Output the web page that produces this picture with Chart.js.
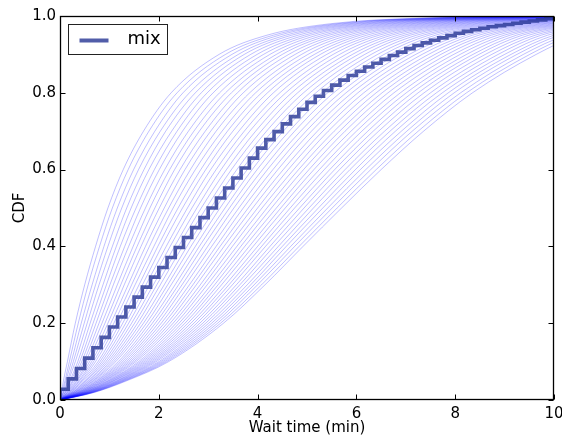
<!DOCTYPE html>
<html>
<head>
<meta charset="utf-8">
<script src="https://cdn.jsdelivr.net/npm/chart.js@4.4.1/dist/chart.umd.min.js"></script>
<style>
  html, body { margin: 0; padding: 0; background: #fff; }
  #c { display: block; }
</style>
</head>
<body>
<canvas id="c" width="562" height="437" style="width:562px;height:437px"></canvas>
<script>
// ---------- DATA ----------
// Mixture CDF: one value per 10-second step (1/6 min), from 0 to 10 min.
const mixStepMinutes = 1 / 6;
const mixCdf = [0.028,0.055,0.082,0.109,0.136,0.163,0.190,
  0.216,0.242,0.268,0.294,0.320,0.345,
  0.371,0.397,0.423,0.449,0.475,0.500,
  0.526,0.552,0.578,0.604,0.630,0.656,
  0.678,0.699,0.719,0.738,0.757,0.775,
  0.791,0.806,0.820,0.833,0.845,0.856,
  0.867,0.877,0.887,0.897,0.906,0.915,
  0.923,0.930,0.937,0.943,0.949,0.955,
  0.960,0.964,0.968,0.972,0.975,0.978,
  0.981,0.984,0.987,0.990,0.993,0.996];

// Light curves: wait time (min) at which each of the 51 curves reaches a CDF level.
const cdfLevels = [0.02, 0.05, 0.1, 0.2, 0.3, 0.4, 0.5, 0.6, 0.7, 0.8, 0.9, 0.95, 0.98, 0.995, 0.999];
const wait02 = [0.03,0.04,0.06,0.07,0.08,0.10,0.11,0.12,0.14,0.15,0.16,0.18,0.19,0.20,0.22,0.23,0.24,0.26,0.27,0.28,0.30,0.31,0.32,0.34,0.35,0.37,0.38,0.39,0.41,0.42,0.43,0.45,0.46,0.47,0.49,0.50,0.51,0.53,0.54,0.55,0.57,0.58,0.59,0.61,0.62,0.63,0.65,0.66,0.67,0.69,0.70];
const wait05 = [0.07,0.10,0.12,0.15,0.17,0.20,0.22,0.25,0.27,0.30,0.33,0.35,0.38,0.40,0.43,0.45,0.48,0.51,0.53,0.56,0.58,0.61,0.63,0.66,0.68,0.71,0.74,0.76,0.79,0.81,0.84,0.86,0.89,0.91,0.94,0.97,0.99,1.02,1.04,1.07,1.09,1.12,1.15,1.17,1.20,1.22,1.25,1.27,1.30,1.32,1.35];
const wait10 = [0.15,0.19,0.23,0.27,0.31,0.36,0.40,0.44,0.48,0.52,0.56,0.60,0.64,0.68,0.72,0.77,0.81,0.85,0.89,0.93,0.97,1.01,1.05,1.09,1.13,1.18,1.22,1.26,1.30,1.34,1.38,1.42,1.46,1.50,1.54,1.59,1.63,1.67,1.71,1.75,1.79,1.83,1.87,1.91,1.95,2.00,2.04,2.08,2.12,2.16,2.20];
const wait20 = [0.31,0.37,0.43,0.49,0.55,0.61,0.67,0.73,0.79,0.85,0.91,0.97,1.03,1.09,1.15,1.21,1.27,1.33,1.39,1.45,1.51,1.57,1.63,1.69,1.75,1.81,1.87,1.93,1.99,2.05,2.11,2.17,2.23,2.29,2.35,2.41,2.47,2.53,2.59,2.65,2.71,2.77,2.83,2.89,2.95,3.01,3.07,3.13,3.19,3.25,3.31];
const wait30 = [0.50,0.57,0.65,0.72,0.79,0.87,0.94,1.01,1.08,1.16,1.23,1.30,1.38,1.45,1.52,1.60,1.67,1.74,1.81,1.89,1.96,2.03,2.11,2.18,2.25,2.33,2.40,2.47,2.54,2.62,2.69,2.76,2.84,2.91,2.98,3.06,3.13,3.20,3.27,3.35,3.42,3.49,3.57,3.64,3.71,3.79,3.86,3.93,4.00,4.08,4.15];
const wait40 = [0.72,0.80,0.89,0.97,1.06,1.14,1.22,1.31,1.39,1.48,1.56,1.64,1.73,1.81,1.90,1.98,2.06,2.15,2.23,2.32,2.40,2.48,2.57,2.65,2.74,2.82,2.90,2.99,3.07,3.16,3.24,3.32,3.41,3.49,3.58,3.66,3.74,3.83,3.91,4.00,4.08,4.16,4.25,4.33,4.42,4.50,4.58,4.67,4.75,4.84,4.92];
const wait50 = [0.97,1.06,1.16,1.25,1.35,1.44,1.54,1.63,1.73,1.82,1.92,2.01,2.11,2.20,2.29,2.39,2.48,2.58,2.67,2.77,2.86,2.96,3.05,3.15,3.24,3.34,3.43,3.52,3.62,3.71,3.81,3.90,4.00,4.09,4.19,4.28,4.38,4.47,4.56,4.66,4.75,4.85,4.94,5.04,5.13,5.23,5.32,5.42,5.51,5.61,5.70];
const wait60 = [1.28,1.38,1.49,1.59,1.70,1.80,1.91,2.01,2.12,2.22,2.32,2.43,2.53,2.64,2.74,2.85,2.95,3.05,3.16,3.26,3.37,3.47,3.58,3.68,3.79,3.89,3.99,4.10,4.20,4.31,4.41,4.52,4.62,4.73,4.83,4.93,5.04,5.14,5.25,5.35,5.46,5.56,5.66,5.77,5.87,5.98,6.08,6.19,6.29,6.40,6.50];
const wait70 = [1.69,1.80,1.92,2.03,2.14,2.26,2.37,2.48,2.60,2.71,2.82,2.94,3.05,3.16,3.28,3.39,3.50,3.62,3.73,3.84,3.96,4.07,4.18,4.30,4.41,4.52,4.64,4.75,4.87,4.98,5.09,5.21,5.32,5.43,5.55,5.66,5.77,5.89,6.00,6.11,6.23,6.34,6.45,6.57,6.68,6.79,6.91,7.02,7.13,7.25,7.36];
const wait80 = [2.25,2.37,2.49,2.62,2.74,2.86,2.98,3.10,3.23,3.35,3.47,3.59,3.71,3.84,3.96,4.08,4.20,4.32,4.45,4.57,4.69,4.81,4.93,5.06,5.18,5.30,5.42,5.54,5.67,5.79,5.91,6.03,6.15,6.28,6.40,6.52,6.64,6.76,6.89,7.01,7.13,7.25,7.37,7.50,7.62,7.74,7.86,7.98,8.11,8.23,8.35];
const wait90 = [3.22,3.35,3.48,3.61,3.73,3.86,3.99,4.12,4.25,4.38,4.50,4.63,4.76,4.89,5.02,5.15,5.27,5.40,5.53,5.66,5.79,5.92,6.04,6.17,6.30,6.43,6.56,6.69,6.82,6.94,7.07,7.20,7.33,7.46,7.59,7.71,7.84,7.97,8.10,8.23,8.36,8.48,8.61,8.74,8.87,9.00,9.13,9.25,9.38,9.51,9.64];
const wait95 = [4.19,4.32,4.44,4.57,4.69,4.82,4.95,5.07,5.20,5.33,5.45,5.58,5.70,5.83,5.96,6.08,6.21,6.34,6.46,6.59,6.71,6.84,6.97,7.09,7.22,7.35,7.47,7.60,7.72,7.85,7.98,8.10,8.23,8.35,8.48,8.61,8.73,8.86,8.99,9.11,9.24,9.36,9.49,9.62,9.74,9.87,10.00,10.12,10.25,10.37,10.50];
const wait98 = [5.48,5.61,5.73,5.86,5.99,6.11,6.24,6.36,6.49,6.62,6.74,6.87,7.00,7.12,7.25,7.38,7.50,7.63,7.76,7.88,8.01,8.13,8.26,8.39,8.51,8.64,8.77,8.89,9.02,9.15,9.27,9.40,9.52,9.65,9.78,9.90,10.03,10.16,10.28,10.41,10.54,10.66,10.79,10.92,11.04,11.17,11.29,11.42,11.55,11.67,11.80];
const wait995 = [7.42,7.54,7.66,7.78,7.91,8.03,8.15,8.27,8.39,8.51,8.64,8.76,8.88,9.00,9.12,9.24,9.37,9.49,9.61,9.73,9.85,9.97,10.10,10.22,10.34,10.46,10.58,10.70,10.82,10.95,11.07,11.19,11.31,11.43,11.55,11.68,11.80,11.92,12.04,12.16,12.28,12.41,12.53,12.65,12.77,12.89,13.01,13.14,13.26,13.38,13.50];
const wait999 = [9.67,9.79,9.90,10.02,10.14,10.25,10.37,10.49,10.60,10.72,10.84,10.95,11.07,11.19,11.30,11.42,11.54,11.65,11.77,11.89,12.00,12.12,12.24,12.35,12.47,12.59,12.70,12.82,12.94,13.05,13.17,13.28,13.40,13.52,13.63,13.75,13.87,13.98,14.10,14.22,14.33,14.45,14.57,14.68,14.80,14.92,15.03,15.15,15.27,15.38,15.50];

const xTickValues = [0, 2, 4, 6, 8, 10];
const yTickValues = [0, 0.2, 0.4, 0.6, 0.8, 1.0];
const mixLabel = 'mix';
const xTitle = 'Wait time (min)';
const yTitle = 'CDF';

// ---------- build datasets ----------
const levelWaits = [wait02, wait05, wait10, wait20, wait30, wait40, wait50, wait60, wait70, wait80, wait90, wait95, wait98, wait995, wait999];
const nCurves = wait05.length;
const MIX_COLOR = 'rgba(37,52,148,0.8)';
const FONT = 'DejaVu Sans';

const mixData = [{x: 0, y: 0}].concat(mixCdf.map((p, k) => ({x: k * mixStepMinutes, y: p})));

const datasets = [{
  label: mixLabel,
  data: mixData,
  showLine: true,
  stepped: true,
  borderColor: MIX_COLOR,
  borderWidth: 3.6,
  pointRadius: 0,
  fill: false
}];
for (let j = 0; j < nCurves; j++) {
  const pts = [{x: 0, y: 0}];
  cdfLevels.forEach((p, k) => pts.push({x: levelWaits[k][j], y: p}));
  datasets.push({
    label: 'lam' + j,
    data: pts,
    showLine: true,
    borderColor: 'rgba(0,0,255,0.25)',
    borderWidth: 1,
    pointRadius: 0,
    cubicInterpolationMode: 'monotone',
    fill: false
  });
}

// ---------- frame, inward ticks and legend ----------
const framePlugin = {
  id: 'frameTicksLegend',
  afterDatasetsDraw(chart) {
    const {ctx, chartArea: a, scales} = chart;
    const xs = scales.x, ys = scales.y;
    ctx.save();
    ctx.strokeStyle = '#000';
    ctx.lineWidth = 1.3;
    const L = Math.round(a.left) + 0.5, R = Math.round(a.right) - 0.5;
    const T = Math.round(a.top) + 0.5, B = Math.round(a.bottom) - 0.5;
    ctx.strokeRect(L, T, R - L, B - T);
    const tl = 5;
    ctx.lineWidth = 1;
    ctx.beginPath();
    xTickValues.forEach(v => {
      const px = Math.round(xs.getPixelForValue(v)) + 0.5;
      ctx.moveTo(px, B); ctx.lineTo(px, B - tl);
      ctx.moveTo(px, T); ctx.lineTo(px, T + tl);
    });
    yTickValues.forEach(v => {
      const py = Math.round(ys.getPixelForValue(v)) + 0.5;
      ctx.moveTo(L, py); ctx.lineTo(L + tl, py);
      ctx.moveTo(R, py); ctx.lineTo(R - tl, py);
    });
    ctx.stroke();

    // legend
    const bx = Math.round(a.left) + 8.5, by = Math.round(a.top) + 8.5;
    const bw = 99, bh = 30;
    ctx.fillStyle = '#fff';
    ctx.fillRect(bx, by, bw, bh);
    ctx.strokeStyle = '#222';
    ctx.lineWidth = 1;
    ctx.strokeRect(bx, by, bw, bh);
    ctx.strokeStyle = MIX_COLOR;
    ctx.lineWidth = 4;
    ctx.beginPath();
    ctx.moveTo(bx + 11, by + 16);
    ctx.lineTo(bx + 40, by + 16);
    ctx.stroke();
    ctx.fillStyle = '#000';
    ctx.font = '18px "' + FONT + '"';
    ctx.textAlign = 'left';
    ctx.textBaseline = 'middle';
    ctx.fillText(mixLabel, bx + 59, by + 15);
    ctx.restore();
  }
};

new Chart(document.getElementById('c'), {
  type: 'scatter',
  data: { datasets },
  options: {
    responsive: false,
    devicePixelRatio: 1,
    animation: false,
    events: [],
    layout: { padding: { top: 16, right: 8, left: 0, bottom: 0 } },
    plugins: { legend: { display: false }, tooltip: { enabled: false } },
    scales: {
      x: {
        type: 'linear', min: 0, max: 10,
        afterBuildTicks(s) { s.ticks = xTickValues.map(v => ({value: v})); },
        ticks: { color: '#000', font: { family: FONT, size: 15 }, padding: 5, maxRotation: 0, autoSkip: false,
                 callback: v => String(v) },
        grid: { display: false, drawTicks: false },
        border: { display: false },
        title: { display: true, text: xTitle, color: '#000', font: { family: FONT, size: 15 }, padding: { top: 0, bottom: 0 } },
        afterFit(s) { s.height = 37; s.paddingLeft = 0; s.paddingRight = 0; }
      },
      y: {
        type: 'linear', min: 0, max: 1,
        afterBuildTicks(s) { s.ticks = yTickValues.map(v => ({value: v})); },
        ticks: { color: '#000', font: { family: FONT, size: 15 }, padding: 4, autoSkip: false,
                 callback: v => Number(v).toFixed(1) },
        grid: { display: false, drawTicks: false },
        border: { display: false },
        title: { display: true, text: yTitle, color: '#000', font: { family: FONT, size: 15 }, padding: { top: 11, bottom: 0 } },
        afterFit(s) { s.width = 60; s.paddingTop = 0; s.paddingBottom = 0; }
      }
    }
  },
  plugins: [framePlugin]
});
</script>
</body>
</html>
